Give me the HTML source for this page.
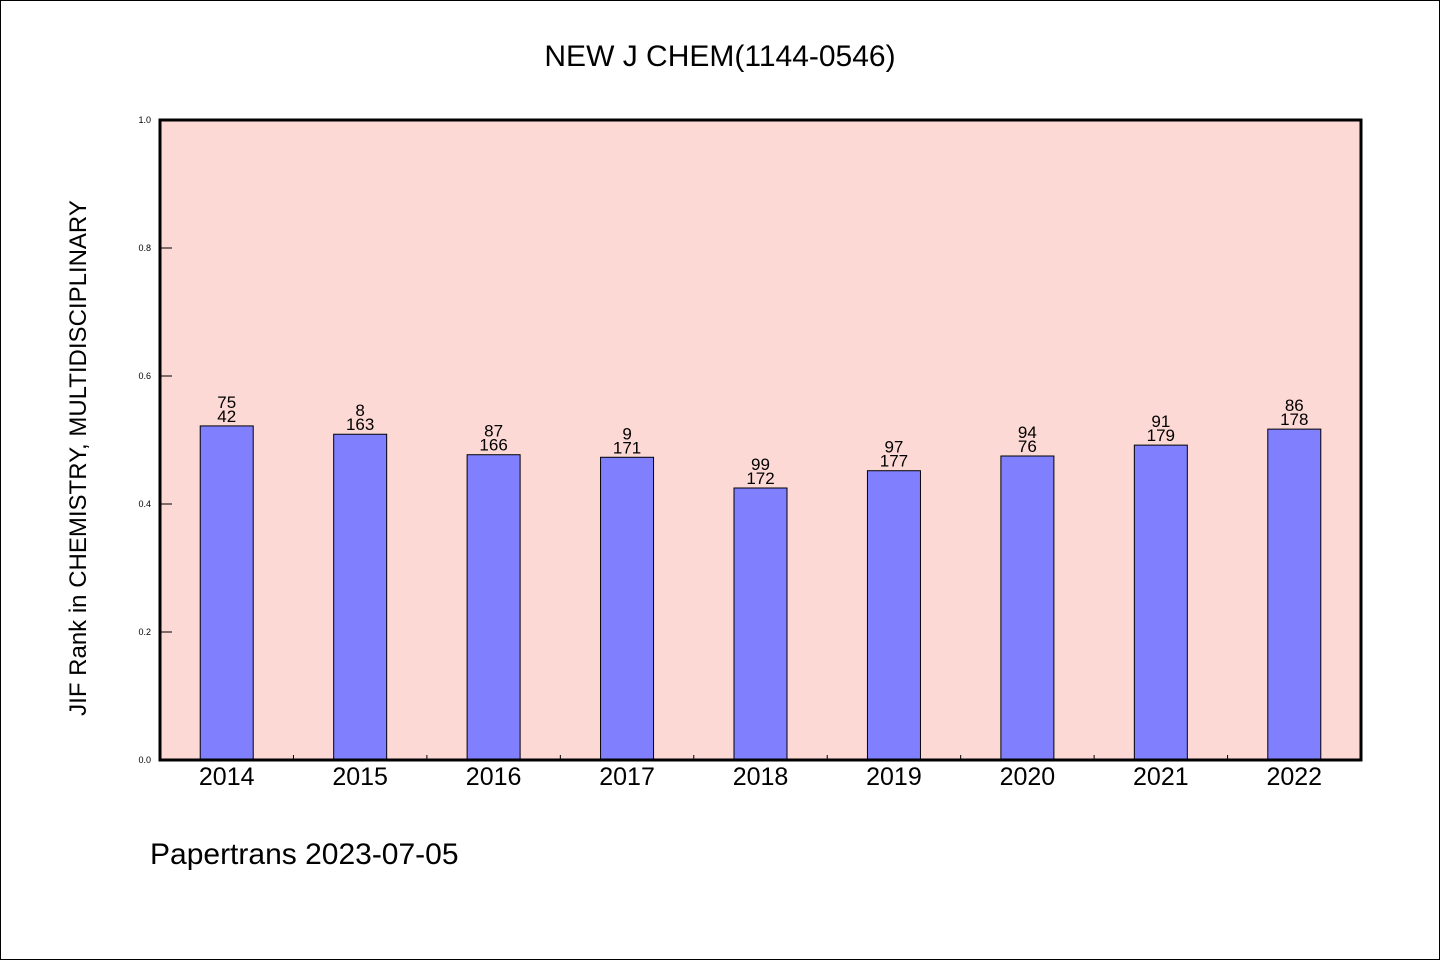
<!DOCTYPE html>
<html><head><meta charset="utf-8"><style>
body{margin:0;background:#fff;}
svg text{font-family:"WenQuanYi Zen Hei","Liberation Sans",sans-serif;fill:#000;}
</style></head><body>
<svg width="1440" height="960" xmlns="http://www.w3.org/2000/svg">
<rect x="0.5" y="0.5" width="1439" height="959" fill="#fff" stroke="#000"/>
<text x="720" y="66" font-size="30" text-anchor="middle">NEW J CHEM(1144-0546)</text>
<rect x="160" y="120" width="1201" height="640" fill="#fdd9d6"/>
<g id="bars"></g>
<g id="axes"></g>
<rect x="160" y="120" width="1201" height="640" fill="none" stroke="#000" stroke-width="3"/>
<text transform="translate(86,458) rotate(-90)" font-size="24" text-anchor="middle">JIF Rank in CHEMISTRY, MULTIDISCIPLINARY</text>
<text x="150" y="864" font-size="30">Papertrans 2023-07-05</text>
</svg>
<script>
const categories=["2014","2015","2016","2017","2018","2019","2020","2021","2022"];
const values=[0.522,0.509,0.477,0.473,0.425,0.452,0.475,0.492,0.517];
const topLabels=["75","8","87","9","99","97","94","91","86"];
const bottomLabels=["42","163","166","171","172","177","76","179","178"];
const yTicks=[0,0.2,0.4,0.6,0.8,1.0];
const yTickLabels=["0.0","0.2","0.4","0.6","0.8","1.0"];
const NS="http://www.w3.org/2000/svg";
const L=160,R=1361,T=120,B=760;
const step=(R-L)/categories.length;
const x=i=>L+step*(i+0.5);
const y=v=>B-(B-T)*v;
function mk(tag,attrs,parent,text){const e=document.createElementNS(NS,tag);for(const k in attrs)e.setAttribute(k,attrs[k]);if(text!==undefined)e.textContent=text;parent.appendChild(e);return e;}
const bars=document.getElementById('bars'),axes=document.getElementById('axes');
const bw=53;
categories.forEach((c,i)=>{
  const r=mk('rect',{x:x(i)-bw/2,y:y(values[i]),width:bw,height:B-y(values[i]),fill:'#8080ff',stroke:'#000','stroke-width':1},bars);
  
  
  const t1=mk('text',{x:x(i),y:y(values[i])-18,'font-size':17,'text-anchor':'middle'},bars,topLabels[i]);
  
  
  const t2=mk('text',{x:x(i),y:y(values[i])-4,'font-size':17,'text-anchor':'middle'},bars,bottomLabels[i]);
  
  
  const xl=mk('text',{x:x(i),y:785,'font-size':25,'text-anchor':'middle'},axes,c);
  
  
  if(i>0){const tk=mk('line',{x1:L+step*i,x2:L+step*i,y1:B,y2:B-5,stroke:'#000'},axes);
  
  }
});
yTicks.forEach((v,i)=>{
  const tk=mk('line',{x1:L,x2:L+12,y1:y(v),y2:y(v),stroke:'#000'},axes);
  
  
  const tl=mk('text',{x:151,y:y(v)+3,'font-size':9,'text-anchor':'end'},axes,yTickLabels[i]);
  
  
});
</script>
</body></html>
